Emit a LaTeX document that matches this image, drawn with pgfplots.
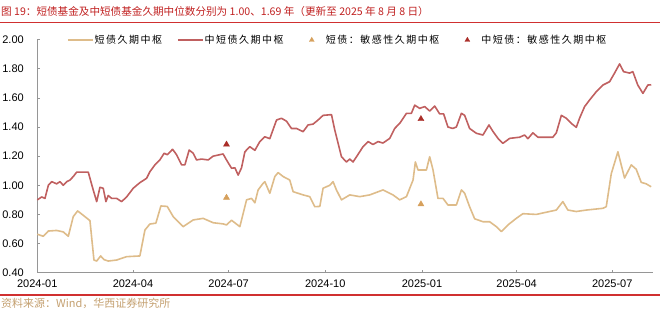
\documentclass[border=0pt]{standalone}
\usepackage{pgfplots}
\pgfplotsset{compat=1.18}
\usepackage{pgfplotstable}
\usepackage{fontspec}
\setmainfont{Liberation Sans}
\newfontfamily\cjk{Noto Sans CJK SC}
\newfontfamily\cjkleg[LetterSpace=15]{Noto Sans CJK SC}
\definecolor{tanline}{RGB}{222,188,138}
\definecolor{redline}{RGB}{192,96,96}
\definecolor{tantri}{RGB}{214,160,92}
\definecolor{redtri}{RGB}{170,45,40}
\definecolor{titlered}{RGB}{192,32,32}
\definecolor{rulered}{RGB}{208,48,48}
\definecolor{srctan}{RGB}{196,160,112}
\definecolor{axisgray}{RGB}{150,150,150}

\pgfplotsset{
  lineleg/.style={legend image code/.code={\draw[##1] (0bp,0bp) -- (25bp,0bp);}},
  markleg/.style={legend image code/.code={\draw[white, opacity=0, line width=0.1bp] (-13bp,0bp) -- (13bp,0bp); \draw[##1, mark size=2.8bp, mark repeat=1, mark phase=1] plot coordinates {(0bp,0bp)};}},
}

\pgfplotstableread{
d v
0 0.664
5.7 0.65
10.5 0.686
18.4 0.69
24.7 0.68
29.5 0.65
34.2 0.785
38.4 0.824
45.3 0.785
50.1 0.757
53.9 0.487
56.5 0.48
60.3 0.515
63.4 0.49
67.5 0.48
75.5 0.487
85 0.51
97.6 0.515
102.4 0.693
107.1 0.734
112.8 0.74
117.6 0.858
123.6 0.855
129.3 0.785
138.8 0.716
148.3 0.762
157.8 0.773
167.3 0.743
176.8 0.735
180 0.728
184.8 0.76
192.7 0.716
199.1 0.9
203.8 0.91
207 0.88
210.1 0.968
214.9 1.014
216.5 1.025
221.2 0.945
226 1.06
229.1 1.087
233.9 1.06
240.2 1.036
243.4 0.956
252.9 0.934
259.2 0.922
264 0.853
268.8 0.855
271.9 0.98
278.3 1.0
281.4 1.025
284.6 0.968
289.4 0.9
297.3 0.934
306.8 0.922
316.3 0.934
328.9 0.968
338.4 0.934
344.8 0.9
351.2 0.922
357.5 1.036
359.7 1.16
362.2 1.105
370.2 1.105
373.3 1.196
376.5 1.105
381.2 0.91
386 0.91
390.7 0.865
398.7 0.865
403.5 0.968
406.6 0.945
411.3 0.853
416.1 0.77
424 0.75
430.4 0.75
436.7 0.716
441.5 0.682
447.8 0.728
455.7 0.773
462 0.805
474.8 0.8
481 0.81
493.8 0.83
500 0.888
504.8 0.83
512.8 0.82
522.3 0.83
538.1 0.842
541.3 0.853
546.1 1.08
552.4 1.23
558.7 1.05
565.1 1.14
569.8 1.11
574.6 1.02
579.3 1.01
584 0.99
}\shortdata

\pgfplotstableread{
d v
0 0.9
4.2 0.92
7.3 0.91
10.5 1.0
13.7 1.025
18.4 1.01
21.6 1.025
24.7 1.0
28 1.025
31.1 1.036
34.2 1.06
37.5 1.09
48.5 1.09
53.2 0.968
56.5 0.888
59.6 0.986
62.7 0.98
65.3 0.888
67.5 0.93
70.7 0.91
75.5 0.91
80.2 0.888
85 0.92
91.3 0.98
97.6 1.018
104 1.048
107.1 1.093
111.9 1.14
116.6 1.174
120.7 1.22
123.6 1.21
128.7 1.247
132.5 1.21
137.3 1.14
140.4 1.14
144.5 1.242
148.3 1.22
151.5 1.174
156.3 1.18
162.6 1.174
167.3 1.2
176.8 1.215
180 1.174
184.8 1.117
188 1.12
191.1 1.07
194.3 1.12
197.5 1.23
202.2 1.265
207 1.24
211.7 1.3
216.5 1.333
221.2 1.32
227.6 1.448
232.3 1.46
237.1 1.44
241.8 1.39
246.6 1.39
252.9 1.368
257.6 1.414
262.4 1.42
267.1 1.448
271.9 1.48
279.9 1.485
283 1.38
289.4 1.196
294.1 1.16
297.3 1.18
300.4 1.16
303.7 1.196
309.9 1.265
314.7 1.3
319.4 1.28
324.2 1.3
328.9 1.29
335.3 1.322
340 1.39
344.8 1.425
351.2 1.494
355.9 1.494
359.1 1.55
363.8 1.528
368.6 1.54
373.3 1.51
378.1 1.544
382.8 1.49
386.6 1.49
390.7 1.40
395.2 1.39
398.7 1.40
403.5 1.494
406.6 1.48
411.3 1.39
417.7 1.357
424 1.345
429.7 1.414
433.5 1.37
438.3 1.322
443 1.288
449.4 1.322
458.9 1.33
463.6 1.345
466.8 1.32
471.5 1.36
476.3 1.33
490.5 1.33
493.8 1.36
498.6 1.48
503.3 1.46
508 1.425
512.8 1.398
515.9 1.46
520.7 1.54
525.4 1.585
531.8 1.642
538.1 1.688
544.5 1.711
549.2 1.77
554 1.833
557.8 1.78
563.5 1.77
566.6 1.78
571.3 1.688
576.2 1.631
580.9 1.688
584.1 1.69
}\middata

\begin{document}
\begin{tikzpicture}
\useasboundingbox (0,0) rectangle (660bp,311bp);
\node[anchor=west, inner sep=0pt, text=titlered, font=\cjk\fontsize{10.6bp}{13bp}\selectfont] at (1bp,300bp) {图 19：短债基金及中短债基金久期中位数分别为 1.00、1.69 年（更新至 2025 年 8 月 8 日）};
\draw[rulered, line width=1.2bp] (0,288.3bp) -- (660bp,288.3bp);
\draw[rulered, line width=1.2bp] (0,16bp) -- (660bp,16bp);
\node[anchor=west, inner sep=0pt, text=srctan, font=\cjk\fontsize{11bp}{12bp}\selectfont] at (1bp,7.5bp) {资料来源：Wind，华西证券研究所};
\begin{axis}[
  at={(37.3bp,38.3bp)}, anchor=south west, scale only axis,
  width=615.4bp, height=233.1bp,
  xmin=0, xmax=585.5, ymin=0.4, ymax=2.0,
  axis lines*=left,
  axis line style={axisgray, line width=0.8bp},
  tick style={axisgray, line width=0.6bp},
  tick align=inside, major tick length=3bp,
  xtick={0,91,182,274,366,456,547},
  xticklabels={2024-01,2024-04,2024-07,2024-10,2025-01,2025-04,2025-07},
  ytick={0.4,0.6,0.8,1.0,1.2,1.4,1.6,1.8,2.0},
  /pgf/number format/assume math mode=true,
  yticklabel style={/pgf/number format/.cd, fixed, fixed zerofill, precision=2, /tikz/.cd, xshift=-10bp},
  xticklabel style={yshift=-4bp},
  ticklabel style={font=\fontsize{11bp}{13bp}\selectfont, text=black},
  clip=false,
  legend style={at={(axis description cs:0.0483,0.998)}, anchor=west, draw=none, fill=none,
    inner sep=0pt, outer sep=0pt, nodes={inner sep=1bp},
    font=\cjkleg\fontsize{10bp}{12bp}\selectfont,
    /tikz/every odd column/.append style={column sep=0bp},
    /tikz/every even column/.append style={column sep=14bp}},
  legend columns=-1,
]
\addplot[tanline, line width=1.6bp, line join=round, lineleg] table[x=d,y=v] {\shortdata};
\addlegendentry{短债久期中枢}
\addplot[redline, line width=1.6bp, line join=round, lineleg] table[x=d,y=v] {\middata};
\addlegendentry{中短债久期中枢}
\addplot[only marks, mark=triangle*, mark size=3.5bp, color=tantri, markleg]
  coordinates {(180,0.915) (365,0.87)};
\addlegendentry{短债：敏感性久期中枢}
\addplot[only marks, mark=triangle*, mark size=3.5bp, color=redtri, markleg]
  coordinates {(180,1.28) (365,1.455)};
\addlegendentry{中短债：敏感性久期中枢}
\end{axis}
\end{tikzpicture}
\end{document}
